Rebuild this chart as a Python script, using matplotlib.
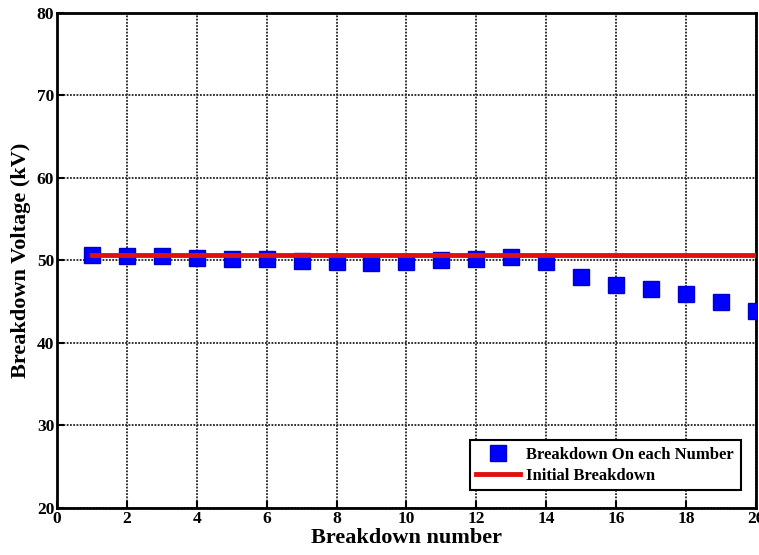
import matplotlib.pyplot as plt

# breakdown voltage per shot
shot_no = list(range(1, 21))
breakdown_kv = [50.6, 50.5, 50.5, 50.3, 50.1, 50.1, 49.9, 49.8, 49.7, 49.8,
                50.0, 50.1, 50.4, 49.8, 48.0, 47.0, 46.5, 45.9, 44.9, 43.9]
initial_x = [1, 20]
initial_kv = [50.6, 50.6]

plt.rcParams['font.family'] = ['Liberation Serif', 'DejaVu Serif']
plt.rcParams['font.weight'] = 'bold'

fig = plt.figure(figsize=(7.59, 5.55), dpi=100)
ax = fig.add_axes([0.075, 0.085, 0.921, 0.892])

ax.plot(shot_no, breakdown_kv, 's', color='#0000ff', markersize=12,
        markeredgecolor='#0000cc', label='Breakdown On each Number', zorder=3)
ax.plot(initial_x, initial_kv, '-', color='#e01010', linewidth=3.5,
        label='Initial Breakdown', zorder=4)

ax.set_xlim(0, 20)
ax.set_ylim(20, 80)
ax.set_xticks(range(0, 21, 2))
ax.set_yticks(range(20, 81, 10))
ax.grid(True, color='#222222', linestyle=(0, (1, 0.8)), linewidth=1.3)
ax.tick_params(direction='in', length=5, width=1.5, labelsize=12.5, pad=2,
               top=False, right=False)
for lbl in ax.get_xticklabels() + ax.get_yticklabels():
    lbl.set_fontweight('bold')
for sp in ax.spines.values():
    sp.set_linewidth(2)

ax.set_xlabel('Breakdown number', fontsize=16, fontweight='bold', labelpad=1)
ax.set_ylabel('Breakdown Voltage (kV)', fontsize=16, fontweight='bold', labelpad=4)

leg = ax.legend(loc='lower right', fontsize=12, fancybox=False, framealpha=1,
                edgecolor='black', bbox_to_anchor=(0.978, 0.035),
                borderaxespad=0, handlelength=2.6, handletextpad=0.4,
                borderpad=0.4, labelspacing=0.3,
                prop={'weight': 'bold', 'size': 12})
leg.get_frame().set_linewidth(1.5)

fig.savefig('out.png', dpi=100)
